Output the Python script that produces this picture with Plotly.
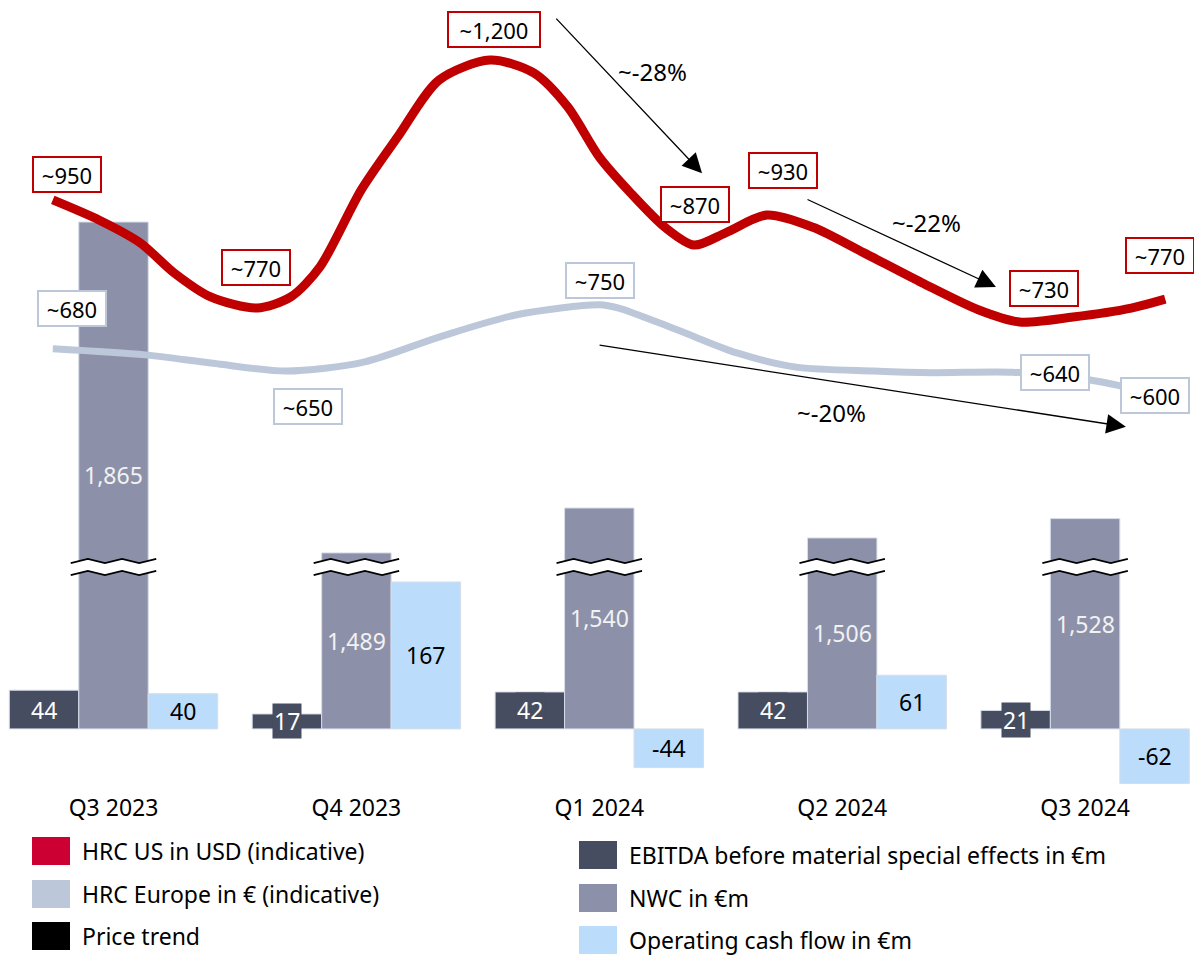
import plotly.graph_objects as go

# ---------------- data ----------------
categories = ["Q3 2023", "Q4 2023", "Q1 2024", "Q2 2024", "Q3 2024"]
ebitda = [44, 17, 42, 42, 21]          # EBITDA before material special effects in €m
nwc = [1865, 1489, 1540, 1506, 1528]   # NWC in €m (axis broken)
ocf = [40, 167, -44, 61, -62]          # Operating cash flow in €m

# HRC price curves, x in quarter index (0 = Q3 2023)
hrc_us_t = [-0.25, -0.06, 0.11, 0.25, 0.40, 0.59, 0.73, 0.85, 1.02, 1.17, 1.34, 1.55, 1.73,
            1.87, 2.00, 2.13, 2.27, 2.39, 2.52, 2.69, 2.88, 3.09, 3.33, 3.56, 3.73, 3.95, 4.19, 4.33]
hrc_us = [949, 913, 872, 818, 775, 755, 775, 829, 967, 1062, 1164, 1200, 1177,
          1116, 1026, 961, 900, 868, 890, 922, 900, 854, 800, 752, 730, 739, 755, 771]
hrc_eu_t = [-0.25, 0.13, 0.41, 0.71, 1.03, 1.34, 1.66, 2.00, 2.08, 2.32, 2.57, 2.81, 3.13,
            3.37, 3.70, 4.02, 4.15]
hrc_eu = [682, 671, 656, 642, 658, 703, 743, 761, 755, 716, 674, 649, 642,
          639, 640, 626, 615]

us_labels = ["~950", "~770", "~1,200", "~870", "~930", "~730", "~770"]
eu_labels = ["~680", "~650", "~750", "~640", "~600"]
trend_labels = ["~-28%", "~-22%", "~-20%"]

legend_left = ["HRC US in USD (indicative)", "HRC Europe in € (indicative)", "Price trend"]
legend_right = ["EBITDA before material special effects in €m", "NWC in €m", "Operating cash flow in €m"]

# ---------------- styles / layout constants ----------------
FONT = "Noto Sans"
C_EBITDA = "#474D60"
C_NWC = "#8C91A9"
C_OCF = "#BBDDFB"
C_US = "#C00000"
C_US_LEG = "#CC0033"
C_EU = "#BCC8D9"
BAR_GAP = 0.142
BAR_W = (1 - BAR_GAP) / 3
NWC_BREAK_OFFSET = 1289      # amount removed from NWC bars by the axis break
BREAK_Y = 184                # break position (display units)
BREAK_HALF = 6.8
BREAK_AMP = 2.4

W, H = 1194, 957
PLOT_H = 790
PX_X = 242.9                 # px per category
X0_PX = 113.5
PX_Y1 = 0.88                 # px per € m
PX_Y2 = 0.5574               # px per price unit
ZERO_PX = 728.9

x_range = [-X0_PX / PX_X, (W - X0_PX) / PX_X]
y1_range = [-(PLOT_H - ZERO_PX) / PX_Y1, ZERO_PX / PX_Y1]
y2_range = [-(PLOT_H - ZERO_PX) / PX_Y2, ZERO_PX / PX_Y2]

idx = list(range(len(categories)))
nwc_disp = [v - NWC_BREAK_OFFSET for v in nwc]

fig = go.Figure()
bar_line = dict(color="#D6DDE9", width=1)
fig.add_trace(go.Bar(x=idx, y=ebitda, marker=dict(color=C_EBITDA, line=bar_line),
                     name=legend_right[0], hoverinfo="skip"))
fig.add_trace(go.Bar(x=idx, y=nwc_disp, marker=dict(color=C_NWC, line=bar_line),
                     name=legend_right[1], customdata=nwc, hovertemplate="%{customdata}<extra></extra>"))
fig.add_trace(go.Bar(x=idx, y=ocf, marker=dict(color=C_OCF, line=bar_line),
                     name=legend_right[2], hoverinfo="skip"))

fig.add_trace(go.Scatter(x=hrc_eu_t, y=hrc_eu, mode="lines", yaxis="y2",
                         line=dict(color=C_EU, width=7, shape="spline", smoothing=0.8),
                         name=legend_left[1]))
fig.add_trace(go.Scatter(x=hrc_us_t, y=hrc_us, mode="lines", yaxis="y2",
                         line=dict(color=C_US, width=9, shape="spline", smoothing=0.8),
                         name=legend_left[0]))

annotations = []
shapes = []

# bar value labels
for i in idx:
    annotations.append(dict(x=i - BAR_W, y=ebitda[i] / 2, xref="x", yref="y", text=str(ebitda[i]),
                            showarrow=False, font=dict(size=23, color="white", family=FONT),
                            bgcolor=C_EBITDA, borderpad=1))
    annotations.append(dict(x=i, y=nwc_disp[i] / 2, xref="x", yref="y", text=f"{nwc[i]:,}",
                            showarrow=False, font=dict(size=23, color="#F2F2F2", family=FONT)))
    annotations.append(dict(x=i + BAR_W, y=ocf[i] / 2, xref="x", yref="y", text=str(ocf[i]),
                            showarrow=False, font=dict(size=23, color="black", family=FONT)))

# axis-break zigzags on NWC bars
for i in idx:
    n = 6
    xs = [i - BAR_W / 2 - 0.033 + k * (BAR_W + 0.066) / (n - 1) for k in range(n)]
    up = [BREAK_Y + BREAK_HALF + (-BREAK_AMP if k % 2 == 0 else BREAK_AMP) for k in range(n)]
    lo = [BREAK_Y - BREAK_HALF + (-BREAK_AMP if k % 2 == 0 else BREAK_AMP) for k in range(n)]
    poly = "M " + " L ".join(f"{x},{y}" for x, y in zip(xs, up)) + " L " + \
        " L ".join(f"{x},{y}" for x, y in zip(xs[::-1], lo[::-1])) + " Z"
    shapes.append(dict(type="path", path=poly, xref="x", yref="y", fillcolor="white",
                       line=dict(width=0), layer="above"))
    for ys in (up, lo):
        p = "M " + " L ".join(f"{x},{y}" for x, y in zip(xs, ys))
        shapes.append(dict(type="path", path=p, xref="x", yref="y",
                           line=dict(color="black", width=1.8), layer="above"))

# price labels (boxes)
us_pos = [(-0.191, 994), (0.586, 827), (1.566, 1254), (2.394, 940), (2.756, 1001), (3.831, 791), (4.31, 850)]
eu_pos = [(-0.171, 754), (0.800, 579), (2.003, 805), (3.876, 640), (4.288, 599)]
for txt, (x, y) in zip(us_labels, us_pos):
    annotations.append(dict(x=x, y=y, xref="x", yref="y2", text=txt, showarrow=False,
                            font=dict(size=22, color="black", family=FONT), bgcolor="white",
                            bordercolor=C_US, borderwidth=2, borderpad=2,
                            width=(86 if len(txt) > 4 else 62), height=29))
for txt, (x, y) in zip(eu_labels, eu_pos):
    annotations.append(dict(x=x, y=y, xref="x", yref="y2", text=txt, showarrow=False,
                            font=dict(size=22, color="black", family=FONT), bgcolor="white",
                            bordercolor=C_EU, borderwidth=2, borderpad=2, width=62, height=29))

# price-trend arrows
arrows = [((1.817, 1277), (2.423, 997)), ((2.851, 951), (3.633, 793)), ((1.995, 689), (4.168, 542))]
trend_pos = [(2.221, 1179), (3.345, 908), (2.954, 567)]
for (tail, tip) in arrows:
    annotations.append(dict(x=tip[0], y=tip[1], ax=tail[0], ay=tail[1], xref="x", yref="y2",
                            axref="x", ayref="y2", text="", showarrow=True, arrowhead=2,
                            arrowsize=3, arrowwidth=1.3, arrowcolor="black", standoff=0))
for txt, (x, y) in zip(trend_labels, trend_pos):
    annotations.append(dict(x=x, y=y, xref="x", yref="y2", text=txt, showarrow=False,
                            font=dict(size=24, color="black", family=FONT)))

# custom legend
def py(p):
    return (PLOT_H - p) / PLOT_H

left_items = list(zip(legend_left, [C_US_LEG, C_EU, "#000000"], [851, 894, 936]))
right_items = list(zip(legend_right, [C_EBITDA, C_NWC, C_OCF], [855, 898, 940]))
for items, sx0, sx1, tx in ((left_items, 32, 70, 80), (right_items, 579, 617, 627)):
    for label, col, cy in items:
        shapes.append(dict(type="rect", xref="paper", yref="paper", x0=sx0 / W, x1=sx1 / W,
                           y0=py(cy + 14), y1=py(cy - 14), fillcolor=col, line=dict(width=0)))
        annotations.append(dict(x=tx / W, y=py(cy), xref="paper", yref="paper", text=label,
                                showarrow=False, xanchor="left", yanchor="middle",
                                font=dict(size=23, color="black", family=FONT)))

fig.update_layout(
    width=W, height=H,
    margin=dict(l=0, r=0, t=0, b=H - PLOT_H, pad=0),
    paper_bgcolor="white", plot_bgcolor="white",
    barmode="group", bargap=BAR_GAP, bargroupgap=0,
    showlegend=False,
    font=dict(family=FONT, size=21, color="black"),
    xaxis=dict(range=x_range, tickvals=idx, ticktext=categories, showgrid=False,
               zeroline=False, showline=False, ticks="", ticklabelstandoff=2,
               tickfont=dict(size=23, color="black")),
    yaxis=dict(range=y1_range, visible=False, showgrid=False, zeroline=False),
    yaxis2=dict(range=y2_range, overlaying="y", visible=False, showgrid=False, zeroline=False),
    annotations=annotations,
    shapes=shapes,
)

fig.write_html(
    "out.html",
    config={"displayModeBar": False},
    post_script="document.body.style.margin='0';document.body.style.padding='0';"
                "document.body.style.overflow='hidden';",
)
